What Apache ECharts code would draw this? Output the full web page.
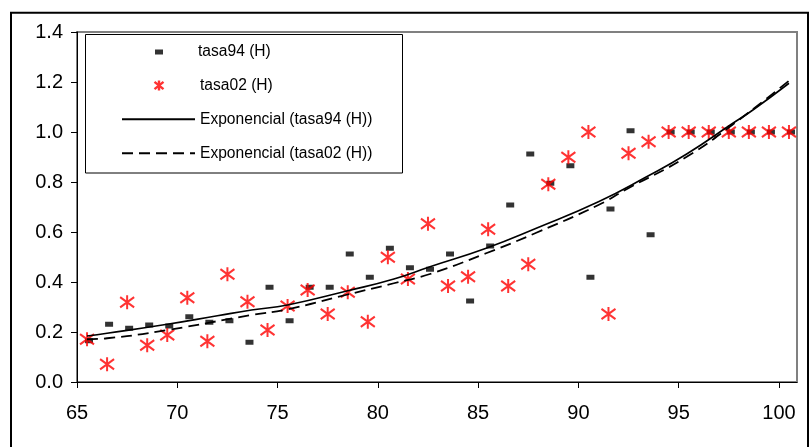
<!DOCTYPE html>
<html>
<head>
<meta charset="utf-8">
<script src="https://cdn.jsdelivr.net/npm/echarts@6/dist/echarts.min.js"></script>
<style>html,body{margin:0;padding:0;background:#fff;}#c{width:809px;height:447px;}</style>
</head>
<body>
<div id="c"></div>
<script>
// ages (x positions of the observations)
const ages = [65.5,66.5,67.5,68.5,69.5,70.5,71.5,72.5,73.5,74.5,75.5,76.5,77.5,78.5,79.5,80.5,81.5,82.5,
  83.5,84.5,85.5,86.5,87.5,88.5,89.5,90.5,91.5,92.5,93.5,94.5,95.5,96.5,97.5,98.5,99.5,100.5];
const tasa94 = [0.165,0.231,0.215,0.228,0.224,0.261,0.239,0.245,0.159,0.379,0.245,0.379,0.379,0.512,0.419,0.535,0.457,0.451,
  0.512,0.324,0.544,0.708,0.912,0.795,0.865,0.419,0.692,1.005,0.589,1.0,1.0,1.0,1.0,1.0,1.0,1.0];
const tasa02 = [0.171,0.071,0.319,0.147,0.188,0.337,0.163,0.431,0.321,0.208,0.304,0.368,0.272,0.359,0.241,0.499,0.412,0.633,
  0.384,0.421,0.611,0.384,0.471,0.791,0.899,1.0,0.272,0.915,0.961,1.0,1.0,1.0,1.0,1.0,1.0,1.0];
// exponential trend lines
const trend94X = [65.5,66.5,69.5,72,73.7,75.5,78.5,80.8,82.6,85.4,87.9,91,93.4,95.4,97.7,98.7,100.5];
const trend94Y = [0.184,0.195,0.231,0.265,0.288,0.308,0.365,0.412,0.461,0.535,0.615,0.721,0.821,0.912,1.035,1.088,1.195];
const trend02X = [65.5,66.5,69.5,73.7,75.5,78.4,80.8,82.6,85.4,87.9,91,92.4,95.4,97.7,100.5];
const trend02Y = [0.171,0.175,0.208,0.268,0.291,0.348,0.395,0.432,0.515,0.597,0.708,0.771,0.901,1.03,1.205];
const xTicks = [65,70,75,80,85,90,95,100];
const yTicks = [0.0,0.2,0.4,0.6,0.8,1.0,1.2,1.4];
const names = ['tasa94 (H)','tasa02 (H)','Exponencial (tasa94 (H))','Exponencial (tasa02 (H))'];

const FONT = 'Liberation Sans, Arial, sans-serif';
const zip = (a,b) => a.map((v,i)=>[v,b[i]]);
const asterisk = 'path://M6 0L6 12M0.6 1.6L11.4 10.4M0.6 10.4L11.4 1.6';

const chart = echarts.init(document.getElementById('c'), null, {renderer:'canvas'});
chart.setOption({
  backgroundColor:'#ffffff',
  animation:false,
  textStyle:{fontFamily:FONT},
  grid:{left:77, top:32, right:12, bottom:65, show:true, borderColor:'#808080', borderWidth:2, backgroundColor:'transparent'},
  xAxis:{type:'value', min:xTicks[0], max:100.9, interval:5,
    axisLine:{show:true, onZero:false, lineStyle:{color:'#000', width:1}},
    axisTick:{show:true, inside:false, length:6, lineStyle:{color:'#000'}},
    axisLabel:{color:'#000', fontSize:20, fontFamily:FONT, margin:21, showMaxLabel:false,
      formatter:v => xTicks.indexOf(v) >= 0 ? String(v) : ''},
    splitLine:{show:false}},
  yAxis:{type:'value', min:yTicks[0], max:yTicks[yTicks.length-1], interval:0.2,
    axisLine:{show:true, lineStyle:{color:'#000', width:1}},
    axisTick:{show:true, inside:false, length:6, lineStyle:{color:'#000'}},
    axisLabel:{color:'#000', fontSize:20, fontFamily:FONT, margin:14, formatter:v => v.toFixed(1)},
    splitLine:{show:false}},
  graphic:[
    {type:'rect', z:-1, silent:true, shape:{x:11, y:12.7, width:797, height:460},
      style:{fill:'none', stroke:'#000', lineWidth:2}},
    {type:'rect', z:0, silent:true, shape:{x:85.5, y:34.5, width:317, height:138.5},
      style:{fill:'#fff', stroke:'#000', lineWidth:1}}
  ],
  legend:[
    {data:[names[0]], orient:'vertical', left:155, top:44, padding:0, itemWidth:8, itemHeight:5,
      icon:'rect', itemStyle:{color:'#000', borderWidth:0},
      textStyle:{fontSize:15.6, lineHeight:16, fontFamily:FONT, color:'#000', padding:[0,0,0,30]}},
    {data:[names[1]], orient:'vertical', left:152, top:77.5, padding:0, itemWidth:10, itemHeight:10,
      itemStyle:{color:'none', borderColor:'#ff0000', borderWidth:2.4},
      textStyle:{fontSize:15.6, lineHeight:16, fontFamily:FONT, color:'#000', padding:[0,0,0,31]}},
    {data:[names[2], names[3]], orient:'vertical', left:121, top:111.3, padding:0, itemWidth:73, itemHeight:14,
      itemGap:18, itemStyle:{opacity:0, color:'#000'},
      lineStyle:{opacity:1},
      textStyle:{fontSize:15.6, lineHeight:16, fontFamily:FONT, color:'#000'}}
  ],
  series:[
    {name:names[0], type:'scatter', data:zip(ages,tasa94), symbol:'rect', symbolSize:[8,5], symbolOffset:[2,0],
      itemStyle:{color:'#000'}, z:3},
    {name:names[1], type:'scatter', data:zip(ages,tasa02), symbol:asterisk, symbolSize:14,
      itemStyle:{color:'none', borderColor:'#ff0000', borderWidth:2}, z:3},
    {name:names[2], type:'line', data:zip(trend94X,trend94Y), symbol:'none', smooth:true,
      itemStyle:{color:'#000'},
      lineStyle:{color:'#000', width:1.6, type:'solid'}, z:4},
    {name:names[3], type:'line', data:zip(trend02X,trend02Y), symbol:'none', smooth:true,
      itemStyle:{color:'#000'},
      lineStyle:{color:'#000', width:1.8, type:[11,6]}, z:4}
  ]
});
</script>
</body>
</html>
